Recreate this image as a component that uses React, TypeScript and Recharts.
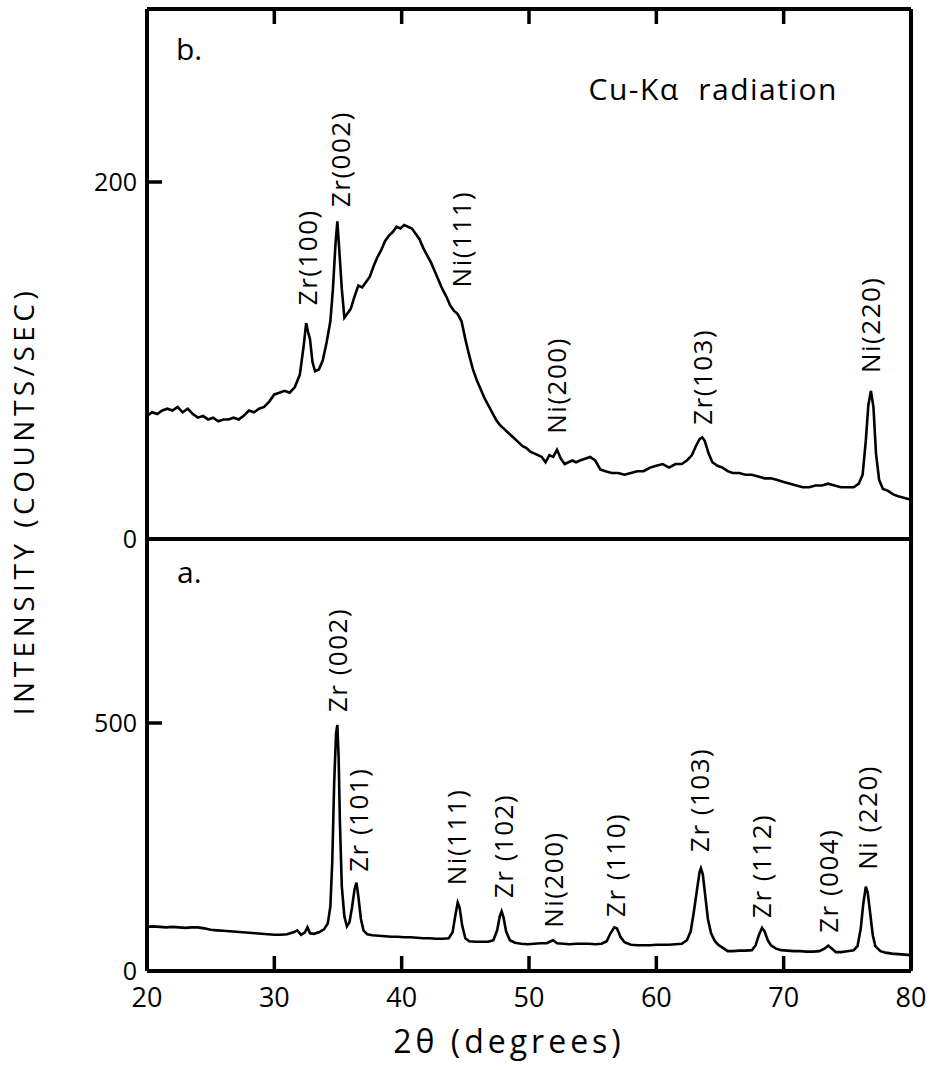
import React from 'react';
import { LineChart, Line, XAxis, YAxis, ReferenceLine, ReferenceDot } from 'recharts';

// ---------- data ----------
// Panel b (top): amorphous + crystalline, counts/sec
const topDeg = [20.0,20.4,20.8,21.2,21.6,22.0,22.4,22.8,23.2,23.6,24.0,24.4,24.8,25.2,25.6,26.0,26.4,26.8,27.2,27.6,28.0,28.4,28.8,29.2,29.6,30.0,30.4,30.8,31.2,31.6,32.0,32.3,32.5,32.65,32.8,33.0,33.2,33.5,33.8,34.1,34.4,34.6,34.8,34.95,35.1,35.3,35.5,35.7,36.0,36.3,36.6,36.9,37.2,37.5,37.8,38.1,38.4,38.7,39.0,39.3,39.6,39.9,40.2,40.5,40.8,41.1,41.4,41.7,42.0,42.3,42.6,42.9,43.2,43.5,43.8,44.1,44.4,44.7,45.0,45.3,45.6,45.9,46.2,46.5,46.8,47.1,47.4,47.7,48.0,48.3,48.6,48.9,49.2,49.5,49.8,50.1,50.4,50.7,51.0,51.3,51.6,51.9,52.2,52.5,52.8,53.1,53.4,53.7,54.0,54.4,54.8,55.2,55.6,56.0,56.5,57.0,57.5,58.0,58.5,59.0,59.5,60.0,60.5,61.0,61.5,62.0,62.4,62.8,63.1,63.4,63.6,63.8,64.1,64.4,64.8,65.2,65.6,66.0,66.5,67.0,67.5,68.0,68.5,69.0,69.5,70.0,70.5,71.0,71.5,72.0,72.5,73.0,73.5,74.0,74.5,75.0,75.5,75.9,76.2,76.45,76.65,76.85,77.05,77.25,77.5,77.8,78.2,78.6,79.0,79.5,80.0];
const topCounts = [69,71,70,72,73,72,74,71,73,70,68,69,67,68,66,67,67,68,67,69,72,71,73,74,77,81,82,83,82,85,92,108,121,116,112,99,94,95,100,110,122,140,165,178,162,140,124,126,129,136,142,141,144,147,153,158,162,167,170,172,175,174,176,175,174,171,168,163,159,155,150,145,140,136,131,128,126,122,112,103,95,89,84,79,75,71,67,64,62,60,58,56,54,52,51,49,48,47,46,43,47,46,50,45,42,43,44,43,44,45,46,44,39,38,37,37,36,37,38,38,40,41,42,40,42,42,44,47,52,56,57,55,48,43,41,40,38,37,37,36,36,35,34,34,33,32,31,30,29,29,30,30,31,30,29,29,29,31,36,55,75,83,74,48,33,28,27,25,24,23,22];

// Panel a (bottom): crystallized, counts/sec
const bottomDeg = [20.0,20.5,21.0,21.5,22.0,22.5,23.0,23.5,24.0,24.5,25.0,25.5,26.0,26.5,27.0,27.5,28.0,28.5,29.0,29.5,30.0,30.5,31.0,31.5,31.8,32.1,32.4,32.6,32.8,33.1,33.5,33.9,34.2,34.4,34.55,34.7,34.85,34.95,35.05,35.15,35.3,35.5,35.7,35.9,36.1,36.3,36.45,36.6,36.8,37.0,37.3,37.7,38.2,38.7,39.2,39.7,40.2,40.7,41.2,41.7,42.2,42.7,43.2,43.7,44.0,44.2,44.4,44.55,44.75,45.0,45.3,45.8,46.3,46.8,47.2,47.5,47.7,47.85,48.0,48.2,48.5,48.9,49.4,49.9,50.4,50.9,51.4,51.7,51.9,52.2,52.7,53.2,53.7,54.2,54.7,55.2,55.7,56.1,56.4,56.7,56.9,57.2,57.5,58.0,58.5,59.0,59.5,60.0,60.5,61.0,61.5,62.0,62.4,62.7,62.95,63.2,63.4,63.5,63.65,63.85,64.05,64.3,64.6,64.9,65.2,65.6,66.0,66.5,67.0,67.5,67.8,68.05,68.3,68.5,68.75,69.0,69.4,69.8,70.3,70.8,71.3,71.8,72.3,72.8,73.2,73.5,73.8,74.1,74.5,75.0,75.5,75.8,76.05,76.25,76.45,76.6,76.8,77.0,77.2,77.6,78.0,78.5,79.0,79.5,80.0];
const bottomCounts = [89,90,89,88,89,88,87,88,88,86,83,82,81,80,79,78,77,76,75,74,73,73,74,78,82,73,78,88,76,75,78,84,96,130,220,380,480,496,430,300,170,110,90,98,128,165,178,150,105,82,74,72,71,70,69,69,68,68,67,66,66,65,65,66,78,110,138,128,92,66,60,59,59,59,62,82,110,120,108,80,62,57,55,54,55,56,56,60,62,56,55,54,55,55,55,54,55,60,76,88,86,68,58,53,52,52,52,53,53,53,54,55,62,80,120,165,200,207,195,150,105,76,60,52,47,40,40,41,41,42,52,72,87,80,62,52,45,42,41,40,40,39,39,40,45,51,45,38,38,40,42,50,85,135,170,158,115,72,50,40,37,35,34,33,32];

// Peak labels: text, position (degrees), and count at which the label starts
const topLabelText = ['Zr(100)', 'Zr(002)', 'Ni(111)', 'Ni(200)', 'Zr(103)', 'Ni(220)'];
const topLabelDeg = [32.6, 35.2, 44.7, 52.2, 63.6, 76.8];
const topLabelCount = [131, 186, 141, 59, 64, 93];

const bottomLabelText = ['Zr (002)', 'Zr (101)', 'Ni(111)', 'Zr (102)', 'Ni(200)', 'Zr (110)', 'Zr (103)', 'Zr (112)', 'Zr (004)', 'Ni (220)'];
const bottomLabelDeg = [35.0, 36.6, 44.3, 48.0, 51.9, 56.8, 63.4, 68.3, 73.5, 76.6];
const bottomLabelCount = [522, 200, 173, 147, 87, 109, 240, 107, 77, 204];

const xMin = 20;
const xMax = 80;
const xTicks = [20, 30, 40, 50, 60, 70, 80];
const xInnerTicks = [30, 40, 50, 60, 70];
const topYTicks = [0, 200];
const topYMarks = [200];
const bottomYTicks = [0, 500];
const bottomYMarks = [500];
const topYMax = 297;
const bottomYMax = 871;

const topData = topDeg.map((d, i) => ({ x: d, y: topCounts[i] }));
const bottomData = bottomDeg.map((d, i) => ({ x: d, y: bottomCounts[i] }));

const FONT = "'Open Sans', 'DejaVu Sans', sans-serif";
const FRAME_W = 4;
const MARK_W = 3.5;
const MARK_PX = 15;

const PeakLabel = (text: string) => (props: any) => {
  const vb = props.viewBox || {};
  const cx = (vb.x ?? 0) + (vb.width ?? 0) / 2;
  const cy = (vb.y ?? 0) + (vb.height ?? 0) / 2;
  return (
    <text
      x={cx}
      y={cy}
      dy="0.36em"
      transform={`rotate(-90 ${cx} ${cy})`}
      textAnchor="start"
      fontSize={26}
      letterSpacing={1.5}
      fontFamily={FONT}
      fill="#000"
    >
      {text}
    </text>
  );
};

const Y_AXIS_W = 60;
const PLOT_LEFT = 147;
const PLOT_RIGHT = 911;
const TOP_PLOT_TOP = 9;
const DIVIDER = 539;
const BOTTOM_AXIS = 971;

function frame(xId: string, yId: string, yMax: number) {
  return [
    <ReferenceLine key="fl" xAxisId={xId} yAxisId={yId} x={xMin} stroke="#000" strokeWidth={FRAME_W} />,
    <ReferenceLine key="fr" xAxisId={xId} yAxisId={yId} x={xMax} stroke="#000" strokeWidth={FRAME_W} />,
    <ReferenceLine key="fb" xAxisId={xId} yAxisId={yId} y={0} stroke="#000" strokeWidth={FRAME_W} />,
    <ReferenceLine key="ft" xAxisId={xId} yAxisId={yId} y={yMax} stroke="#000" strokeWidth={FRAME_W} />,
  ];
}

// inward tick marks (same linear mapping as the chart's plot area)
const px = (deg: number) => PLOT_LEFT + ((deg - xMin) / (xMax - xMin)) * (PLOT_RIGHT - PLOT_LEFT);
const pyTop = (v: number) => DIVIDER - (v / topYMax) * (DIVIDER - TOP_PLOT_TOP);
const pyBottom = (v: number) => BOTTOM_AXIS - (v / bottomYMax) * (BOTTOM_AXIS - DIVIDER);

export default function App() {
  const W = 934;
  const H = 1070;
  const left = PLOT_LEFT - Y_AXIS_W;
  const right = W - PLOT_RIGHT;
  const marks: string[] = [];
  xInnerTicks.forEach((t) => {
    marks.push(`M${px(t)} ${TOP_PLOT_TOP} V${TOP_PLOT_TOP + MARK_PX}`);
    marks.push(`M${px(t)} ${BOTTOM_AXIS} V${BOTTOM_AXIS - MARK_PX}`);
  });
  topYMarks.forEach((v) => marks.push(`M${PLOT_LEFT} ${pyTop(v)} H${PLOT_LEFT + MARK_PX}`));
  bottomYMarks.forEach((v) => marks.push(`M${PLOT_LEFT} ${pyBottom(v)} H${PLOT_LEFT + MARK_PX}`));
  return (
    <div style={{ position: 'absolute', left: 0, top: 0, width: W, height: H, background: '#fff', overflow: 'hidden' }}>
      {/* Panel b */}
      <div style={{ position: 'absolute', left: 0, top: 0 }}>
        <LineChart width={W} height={560} data={topData} margin={{ top: TOP_PLOT_TOP, right, bottom: 560 - DIVIDER, left }}>
          <XAxis xAxisId="t" hide type="number" dataKey="x" domain={[xMin, xMax]} />
          <YAxis yAxisId="l" type="number" domain={[0, topYMax]} ticks={topYTicks} width={Y_AXIS_W}
            interval={0} axisLine={false} tickLine={false} tickSize={1} tickMargin={9}
            tick={{ fontSize: 25, fill: '#000', fontFamily: FONT }} />
          {frame('t', 'l', topYMax)}
          <Line xAxisId="t" yAxisId="l" type="linear" dataKey="y" stroke="#000" strokeWidth={2.6}
            dot={false} isAnimationActive={false} />
          {topLabelText.map((t, i) => (
            <ReferenceDot key={t} xAxisId="t" yAxisId="l" x={topLabelDeg[i]} y={topLabelCount[i]} r={0}
              fill="none" stroke="none" label={{ content: PeakLabel(t) } as any} />
          ))}
        </LineChart>
      </div>
      {/* Panel a */}
      <div style={{ position: 'absolute', left: 0, top: 0 }}>
        <LineChart width={W} height={H} data={bottomData} margin={{ top: DIVIDER, right, bottom: H - BOTTOM_AXIS - 60, left }}>
          <XAxis xAxisId="b" orientation="bottom" type="number" dataKey="x" domain={[xMin, xMax]} ticks={xTicks}
            interval={0} height={60} axisLine={false} tickLine={false} tickSize={1} tickMargin={16}
            tick={{ fontSize: 27, fill: '#000', fontFamily: FONT }} />
          <YAxis yAxisId="l" type="number" domain={[0, bottomYMax]} ticks={bottomYTicks} width={Y_AXIS_W}
            interval={0} axisLine={false} tickLine={false} tickSize={1} tickMargin={9}
            tick={{ fontSize: 25, fill: '#000', fontFamily: FONT }} />
          {frame('b', 'l', bottomYMax)}
          <Line xAxisId="b" yAxisId="l" type="linear" dataKey="y" stroke="#000" strokeWidth={2.6}
            dot={false} isAnimationActive={false} />
          {bottomLabelText.map((t, i) => (
            <ReferenceDot key={t} xAxisId="b" yAxisId="l" x={bottomLabelDeg[i]} y={bottomLabelCount[i]} r={0}
              fill="none" stroke="none" label={{ content: PeakLabel(t) } as any} />
          ))}
        </LineChart>
      </div>
      {/* Tick marks, titles and annotations */}
      <svg width={W} height={H} style={{ position: 'absolute', left: 0, top: 0, pointerEvents: 'none' }}>
        <path d={marks.join(' ')} stroke="#000" strokeWidth={MARK_W} fill="none" />
        <text x={176} y={60} fontSize={30} fontFamily={FONT} fill="#000">b.</text>
        <text x={177} y={583} fontSize={30} fontFamily={FONT} fill="#000">a.</text>
        <text x={838} y={100} textAnchor="end" fontSize={30} fontFamily={FONT} fill="#000" letterSpacing={1.5} xmlSpace="preserve">Cu-Kα  radiation</text>
        <text x={509} y={1053} textAnchor="middle" fontSize={32} fontFamily={FONT} fill="#000" letterSpacing={4}>2θ (degrees)</text>
        <text x={24} y={501} dy="0.36em" textAnchor="middle" transform="rotate(-90 24 501)" fontSize={28}
          fontFamily={FONT} fill="#000" letterSpacing={4.5}>INTENSITY (COUNTS/SEC)</text>
      </svg>
    </div>
  );
}
